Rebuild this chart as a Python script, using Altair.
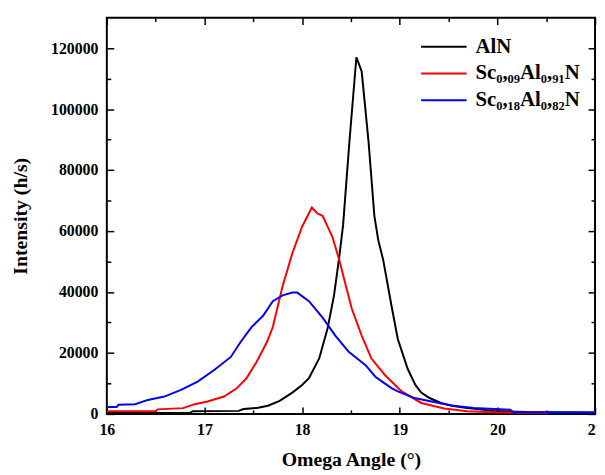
import altair as alt
import pandas as pd

# ---- data ----
names = ["AlN", "Sc₀,₀₉Al₀,₉₁N", "Sc₀,₁₈Al₀,₈₂N"]
colors = ["#000000", "#ff0000", "#0000ff"]

aln_x = [16.0, 16.85, 16.88, 17.35, 17.4, 17.55, 17.65, 17.77, 17.9, 18.0, 18.07, 18.175,
         18.26, 18.326, 18.377, 18.42, 18.485, 18.556, 18.61, 18.68, 18.74, 18.78, 18.83,
         18.916, 18.98, 19.08, 19.16, 19.22, 19.3, 19.42, 19.55, 19.69, 19.96, 20.3, 21.0]
aln_y = [300, 300, 900, 1000, 1600, 2000, 2700, 4300, 7000, 9500, 11700, 18200,
         27900, 38700, 50600, 62000, 89500, 117000, 112400, 89500, 65000, 57000, 50600,
         35400, 24600, 14900, 9500, 7000, 5300, 3600, 2600, 1900, 1000, 600, 500]

sc09_x = [16.0, 16.5, 16.52, 16.78, 16.9, 17.03, 17.2, 17.33, 17.43, 17.535, 17.64, 17.7,
          17.8, 17.9, 18.0, 18.1, 18.16, 18.21, 18.31, 18.38, 18.44, 18.51, 18.61, 18.71,
          18.85, 19.02, 19.22, 19.455, 19.69, 20.0, 20.52]
sc09_y = [900, 900, 1500, 1900, 3200, 4100, 5700, 8400, 11700, 17100, 23600, 28500,
          41900, 52700, 61400, 67700, 65700, 65000, 58100, 50600, 43000, 34400, 25700, 18150,
          12700, 7400, 3600, 1800, 900, 500, 300]

sc18_x = [16.0, 16.1, 16.12, 16.29, 16.42, 16.59, 16.76, 16.93, 17.1, 17.27, 17.37, 17.48,
          17.6, 17.7, 17.8, 17.9, 17.95, 18.07, 18.21, 18.34, 18.48, 18.65, 18.75, 18.82,
          18.92, 18.98, 19.15, 19.25, 19.35, 19.52, 19.76, 20.13, 20.16, 20.5, 21.0]
sc18_y = [2300, 2300, 3000, 3200, 4600, 5700, 7900, 10600, 14400, 18700, 23600, 28400,
          32200, 37000, 38900, 39800, 39800, 37000, 31600, 25700, 20300, 16000, 12200, 10600,
          8400, 7400, 5200, 4600, 3900, 2800, 1950, 1400, 650, 500, 500]

x_major = [16, 17, 18, 19, 20, 21]
x_minor = [16.5, 17.5, 18.5, 19.5, 20.5]
y_major = [0, 20000, 40000, 60000, 80000, 100000, 120000]
y_minor = [10000, 30000, 50000, 70000, 90000, 110000]

rows = []
for name, xs_, ys_ in zip(names, [aln_x, sc09_x, sc18_x], [aln_y, sc09_y, sc18_y]):
    for a, b in zip(xs_, ys_):
        rows.append({"angle": a, "intensity": b, "sample": name})
df = pd.DataFrame(rows)

W, H = 494, 401
FONT = "Liberation Serif"
xscale = alt.Scale(domain=[16, 21], nice=False, zero=False)
yscale = alt.Scale(domain=[0, 130000], nice=False, zero=False)

main = alt.Chart(df).mark_line(strokeWidth=2, clip=True).encode(
    x=alt.X("angle:Q", scale=xscale, title="Omega Angle (°)",
            axis=alt.Axis(orient="bottom", values=x_major, format="d", ticks=False,
                          domain=False, grid=False, labelFont=FONT, labelFontSize=16,
                          labelFontWeight="bold", labelColor="black", labelPadding=8,
                          labelFlush=False, titleFont=FONT, titleFontSize=20,
                          titleFontWeight="bold", titleColor="black", titlePadding=12)),
    y=alt.Y("intensity:Q", scale=yscale, title="Intensity (h/s)",
            axis=alt.Axis(orient="left", values=y_major, format="d", ticks=False,
                          domain=False, grid=False, labelFont=FONT, labelFontSize=16,
                          labelFontWeight="bold", labelColor="black", labelPadding=9,
                          labelFlush=False, titleFont=FONT, titleFontSize=20,
                          titleFontWeight="bold", titleColor="black", titlePadding=20)),
    color=alt.Color("sample:N", scale=alt.Scale(domain=names, range=colors),
                    legend=alt.Legend(title=None, orient="none", legendX=317, legendY=17,
                                      symbolType="M-1,0H3", symbolSize=529,
                                      symbolStrokeWidth=2, labelFont=FONT, labelFontSize=21,
                                      labelFontWeight="bold", labelColor="black",
                                      labelOffset=31, rowPadding=4, padding=0,
                                      labelLimit=300)),
)


def tick_layer(xorient, yorient, xvals, yvals, size):
    return alt.Chart(df).mark_line(opacity=0).encode(
        x=alt.X("angle:Q", scale=xscale, title=None,
                axis=alt.Axis(orient=xorient, offset=-H, values=xvals, labels=False,
                              domain=False, grid=False, ticks=True, tickSize=size,
                              tickWidth=1.5, tickColor="black")),
        y=alt.Y("intensity:Q", scale=yscale, title=None,
                axis=alt.Axis(orient=yorient, offset=-W, values=yvals, labels=False,
                              domain=False, grid=False, ticks=True, tickSize=size,
                              tickWidth=1.5, tickColor="black")),
    )


chart = alt.layer(
    main,
    tick_layer("top", "right", x_major, y_major, 7),
    tick_layer("bottom", "left", x_major, y_major, 7),
    tick_layer("top", "right", x_minor, y_minor, 4),
    tick_layer("bottom", "left", x_minor, y_minor, 4),
).resolve_axis(x="independent", y="independent").properties(
    width=W, height=H,
    padding={"left": 100, "top": 7, "right": 2, "bottom": 56},
    autosize=alt.AutoSizeParams(type="none"),
).configure_view(stroke="black", strokeWidth=2)

chart.save("out.html", embed_options={"renderer": "svg", "actions": False})
